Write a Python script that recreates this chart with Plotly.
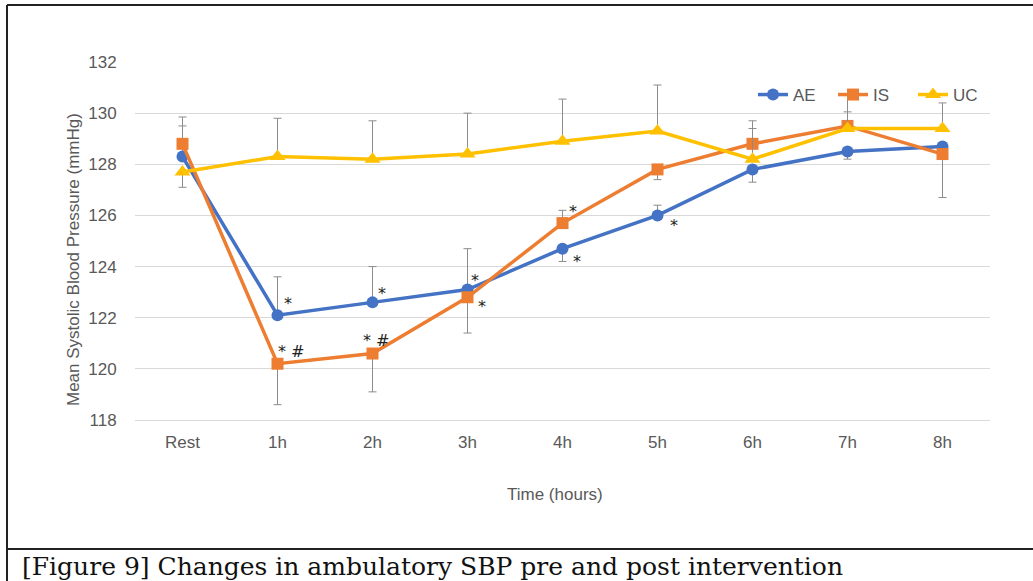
import plotly.graph_objects as go

# ---- data ----
categories = ["Rest", "1h", "2h", "3h", "4h", "5h", "6h", "7h", "8h"]

ae_values = [128.3, 122.1, 122.6, 123.1, 124.7, 126.0, 127.8, 128.5, 128.7]
is_values = [128.8, 120.2, 120.6, 122.8, 125.7, 127.8, 128.8, 129.5, 128.4]
uc_values = [127.7, 128.3, 128.2, 128.4, 128.9, 129.3, 128.2, 129.4, 129.4]

ae_err_plus = [1.2, 1.5, 1.4, 1.6, 0.0, 0.4, 0.0, 0.0, 0.0]
ae_err_minus = [0.0, 0.0, 0.0, 0.0, 0.5, 0.0, 0.5, 0.3, 0.0]
is_err_plus = [1.05, 0.0, 0.0, 0.0, 0.5, 0.0, 0.9, 0.55, 0.0]
is_err_minus = [0.0, 1.6, 1.5, 1.4, 0.0, 0.4, 0.0, 0.0, 1.7]
uc_err_plus = [0.0, 1.5, 1.5, 1.6, 1.65, 1.8, 1.2, 1.3, 1.0]
uc_err_minus = [0.6, 0.0, 0.0, 0.0, 0.0, 0.0, 0.0, 0.0, 0.0]

y_ticks = [118, 120, 122, 124, 126, 128, 130, 132]

# significance marks: (series, category, text)
sig_series = ["AE", "IS", "AE", "IS", "AE", "IS", "IS", "AE", "AE"]
sig_cats = ["1h", "1h", "2h", "2h", "3h", "3h", "4h", "4h", "5h"]
sig_texts = ["*", "* #", "*", "* #", "*", "*", "*", "*", "*"]

caption = "[Figure 9] Changes in ambulatory SBP pre and post intervention"

# ---- layout geometry ----
W, H = 1033, 581
L, R, T, B = 135, 990, 62, 420

def px_x(px):
    return (px - L) / (R - L)

def px_y(py):
    return (B - py) / (B - T)

GRAY_TXT = "#595959"
ERR = dict(type="data", symmetric=False, color="#8c8c8c", thickness=1, width=4)

fig = go.Figure()

series = [
    ("AE", ae_values, ae_err_plus, ae_err_minus, "#4472C4", "circle", 12),
    ("IS", is_values, is_err_plus, is_err_minus, "#ED7D31", "square", 12),
    ("UC", uc_values, uc_err_plus, uc_err_minus, "#FFC000", "triangle-up", 14),
]
for name, vals, ep, em, col, sym, size in series:
    fig.add_trace(go.Scatter(
        x=categories, y=vals, name=name, mode="lines+markers",
        line=dict(color=col, width=3.5),
        marker=dict(color=col, symbol=sym, size=size),
        error_y=dict(array=ep, arrayminus=em, **ERR),
    ))

values_by = {"AE": ae_values, "IS": is_values, "UC": uc_values}
# pixel offsets of marks relative to their point (x right, y up)
offsets = {
    ("AE", "1h"): (10, 12), ("IS", "1h"): (14, 12),
    ("AE", "2h"): (9, 9), ("IS", "2h"): (4, 13),
    ("AE", "3h"): (7, 9), ("IS", "3h"): (14, -9),
    ("IS", "4h"): (10, 12), ("AE", "4h"): (14, -13),
    ("AE", "5h"): (16, -10),
}
annotations = []
for s, c, t in zip(sig_series, sig_cats, sig_texts):
    dx, dy = offsets[(s, c)]
    yv = values_by[s][categories.index(c)]
    annotations.append(dict(
        x=c, y=yv, xref="x", yref="y", text=t, showarrow=False,
        xshift=dx, yshift=dy, font=dict(size=16, color="#222222",
                                        family="DejaVu Sans, Arial"),
    ))

annotations.append(dict(
    x=px_x(73), y=px_y(260), xref="paper", yref="paper",
    text="Mean Systolic Blood Pressure (mmHg)", textangle=-90, showarrow=False,
    font=dict(size=17, color=GRAY_TXT, family="Liberation Sans, Arial"),
    xanchor="center", yanchor="middle",
))
annotations.append(dict(
    x=px_x(555), y=px_y(494), xref="paper", yref="paper",
    text="Time (hours)", showarrow=False,
    font=dict(size=17, color=GRAY_TXT, family="Liberation Sans, Arial"),
    xanchor="center", yanchor="middle",
))
annotations.append(dict(
    x=px_x(20), y=px_y(566), xref="paper", yref="paper",
    text=caption, showarrow=False,
    font=dict(size=25, color="#111111", family="DejaVu Serif, serif"),
    xanchor="left", yanchor="middle",
))

shapes = [
    dict(type="line", xref="paper", yref="paper", x0=px_x(7), x1=px_x(7),
         y0=px_y(5), y1=px_y(581), line=dict(color="#222222", width=2)),
    dict(type="line", xref="paper", yref="paper", x0=px_x(7), x1=px_x(1040),
         y0=px_y(5), y1=px_y(5), line=dict(color="#222222", width=2)),
    dict(type="line", xref="paper", yref="paper", x0=px_x(7), x1=px_x(1040),
         y0=px_y(549), y1=px_y(549), line=dict(color="#222222", width=2)),
]

fig.update_layout(
    width=W, height=H,
    margin=dict(l=L, r=W - R, t=T, b=H - B, pad=0),
    paper_bgcolor="white", plot_bgcolor="white",
    font=dict(family="Liberation Sans, Arial", color=GRAY_TXT),
    showlegend=True,
    legend=dict(orientation="h", x=px_x(753), y=px_y(95), xanchor="left",
                yanchor="middle", font=dict(size=17, color=GRAY_TXT),
                bgcolor="rgba(0,0,0,0)", itemwidth=30, entrywidth=35,
                tracegroupgap=0),
    annotations=annotations,
    shapes=shapes,
)
fig.update_xaxes(
    type="category", range=[-0.5, 8.5], showgrid=False, zeroline=False,
    showline=True, linecolor="#d9d9d9", linewidth=1,
    ticks="outside", ticklen=7, tickcolor="rgba(0,0,0,0)",
    tickfont=dict(size=17, color=GRAY_TXT),
)
fig.update_yaxes(
    range=[118, 132], tickvals=y_ticks, showgrid=True, gridcolor="#d9d9d9",
    gridwidth=1, zeroline=False, showline=False,
    ticks="outside", ticklen=14, tickcolor="rgba(0,0,0,0)",
    tickfont=dict(size=17, color=GRAY_TXT),
)

fig.write_html("out.html")
